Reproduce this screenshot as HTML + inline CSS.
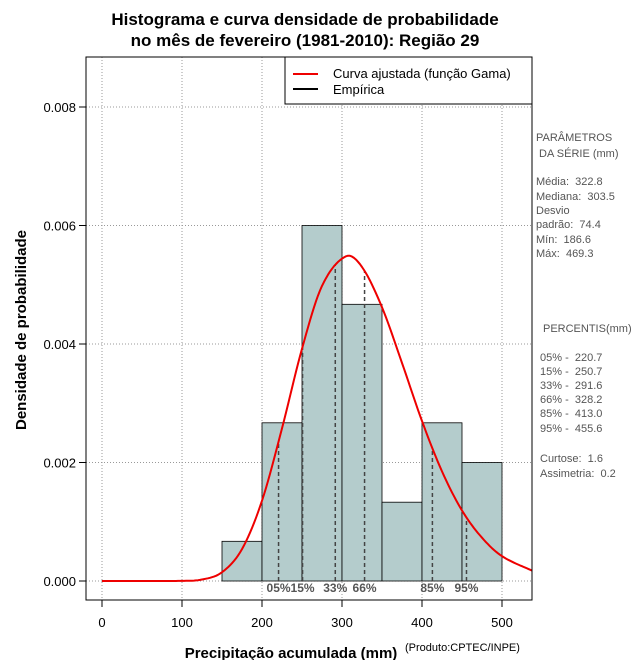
<!DOCTYPE html>
<html><head><meta charset="utf-8">
<style>
body{margin:0;background:#fff;width:640px;height:660px;overflow:hidden;font-family:"Liberation Sans",sans-serif;}
svg text{font-family:"Liberation Sans",sans-serif;white-space:pre;}
</style></head>
<body>
<svg id="chart" width="640" height="660">
<text x="305" y="25" text-anchor="middle" font-size="17" font-weight="bold">Histograma e curva densidade de probabilidade</text>
<text x="305" y="46" text-anchor="middle" font-size="17" font-weight="bold">no mês de fevereiro (1981-2010): Região 29</text>
<g id="grid"></g>
<g id="bars"></g>
<g id="plines"></g>
<g id="curve"></g>
<g id="axes"></g>
<rect x="86" y="57" width="446" height="543" fill="none" stroke="#000"/>
<g>
<rect x="285" y="57" width="247" height="47" fill="#fff" stroke="#000"/>
<line x1="293" y1="74" x2="318" y2="74" stroke="#e00" stroke-width="2"/>
<text x="333" y="78" font-size="13">Curva ajustada (função Gama)</text>
<line x1="293" y1="89" x2="318" y2="89" stroke="#000" stroke-width="2"/>
<text x="333" y="94" font-size="13">Empírica</text>
</g>
<text transform="translate(26,330) rotate(-90)" text-anchor="middle" font-size="15" font-weight="bold">Densidade de probabilidade</text>
<text x="291" y="658" text-anchor="middle" font-size="15" font-weight="bold">Precipitação acumulada (mm)</text>
<text x="405" y="651" font-size="11">(Produto:CPTEC/INPE)</text>
<g font-size="11" fill="#555">
<text x="536" y="141">PARÂMETROS</text>
<text x="536" y="157"> DA SÉRIE (mm)</text>
<text x="536" y="185">Média:  322.8</text>
<text x="536" y="200">Mediana:  303.5</text>
<text x="536" y="214">Desvio</text>
<text x="536" y="228">padrão:  74.4</text>
<text x="536" y="243">Mín:  186.6</text>
<text x="536" y="257">Máx:  469.3</text>
<text x="543" y="332">PERCENTIS(mm)</text>
<text x="540" y="361">05% -  220.7</text>
<text x="540" y="375">15% -  250.7</text>
<text x="540" y="389">33% -  291.6</text>
<text x="540" y="403">66% -  328.2</text>
<text x="540" y="417">85% -  413.0</text>
<text x="540" y="432">95% -  455.6</text>
<text x="540" y="462">Curtose:  1.6</text>
<text x="540" y="477">Assimetria:  0.2</text>
</g>
</svg>
<script>
const binStarts=[150,200,250,300,350,400,450];
const binDensity=[0.00067,0.00267,0.0060,0.00467,0.00133,0.00267,0.0020];
const binWidth=50;
const curveX=[0,100,125,150,175,200,225,250,275,305,325,350,375,400,425,450,475,500,540];
const curveY=[0,0.000002,0.000025,0.000148,0.000538,0.001355,0.002576,0.00392,0.00498,0.00548,0.0053,0.00462,0.00368,0.0027,0.00185,0.00119,0.00073,0.00042,0.00016];
const pctLabels=["05%","15%","33%","66%","85%","95%"];
const pctValues=[220.7,250.7,291.6,328.2,413.0,455.6];
const xTicks=[0,100,200,300,400,500];
const yTicks=[0,0.002,0.004,0.006,0.008];
const yTickLabels=["0.000","0.002","0.004","0.006","0.008"];

const NS="http://www.w3.org/2000/svg";
const X=v=>102+v*0.8;
const Y=v=>581-v*59250;
function mk(tag,attrs,parent){const e=document.createElementNS(NS,tag);for(const k in attrs)e.setAttribute(k,attrs[k]);parent.appendChild(e);return e;}
// Catmull-Rom evaluation through the data points
function smooth(x){
 const n=curveX.length;
 for(let i=0;i<n-1;i++){
  if(x>=curveX[i]&&x<=curveX[i+1]){
   const x0=curveX[Math.max(i-1,0)],x1=curveX[i],x2=curveX[i+1],x3=curveX[Math.min(i+2,n-1)];
   const y0=curveY[Math.max(i-1,0)],y1=curveY[i],y2=curveY[i+1],y3=curveY[Math.min(i+2,n-1)];
   const h=x2-x1,t=(x-x1)/h;
   const m1=(y2-y0)/(x2-x0||1)*h,m2=(y3-y1)/(x3-x1||1)*h;
   const t2=t*t,t3=t2*t;
   let v=(2*t3-3*t2+1)*y1+(t3-2*t2+t)*m1+(-2*t3+3*t2)*y2+(t3-t2)*m2;
   return Math.max(v,0);
  }
 }
 return 0;
}
const grid=document.getElementById('grid'),bars=document.getElementById('bars'),pl=document.getElementById('plines'),cv=document.getElementById('curve'),ax=document.getElementById('axes');
xTicks.forEach(t=>{
 const g=mk('line',{x1:X(t),x2:X(t),y1:57,y2:600,stroke:'#999','stroke-dasharray':'1,2'},grid);
 
 
 const k=mk('line',{x1:X(t),x2:X(t),y1:600,y2:607,stroke:'#000'},ax);
 
 
 const l=mk('text',{x:X(t),y:627,'text-anchor':'middle','font-size':'13'},ax);l.textContent=t;
 
 
});
yTicks.forEach((t,i)=>{
 const g=mk('line',{x1:86,x2:532,y1:Y(t),y2:Y(t),stroke:'#999','stroke-dasharray':'1,2'},grid);
 
 
 const k=mk('line',{x1:79,x2:86,y1:Y(t),y2:Y(t),stroke:'#000'},ax);
 
 
 const l=mk('text',{x:76,y:Y(t)+5,'text-anchor':'end','font-size':'13'},ax);l.textContent=yTickLabels[i];
 
 
});
binStarts.forEach((s,i)=>{
 const r=mk('rect',{x:X(s),y:Y(binDensity[i]),width:binWidth*0.8,height:581-Y(binDensity[i]),fill:'#b4cccc',stroke:'#000','stroke-width':'0.8'},bars);
 
 
});
pctValues.forEach((p,i)=>{
 const l=mk('line',{x1:X(p),x2:X(p),y1:581,y2:Y(smooth(p)),stroke:'#444','stroke-width':'1.5','stroke-dasharray':'4,3'},pl);
 
 
 const t=mk('text',{x:X(p),y:592,'text-anchor':'middle','font-size':'12','font-weight':'bold',fill:'#555'},pl);t.textContent=pctLabels[i];
 
 
});
let d='';
for(let x=0;x<=537.5;x+=2.5){d+=(x?'L':'M')+X(x).toFixed(1)+','+Y(smooth(x)).toFixed(1);}
const c=mk('path',{d:d,fill:'none',stroke:'#e00','stroke-width':'2','stroke-linejoin':'round'},cv);


</script>
</body></html>
